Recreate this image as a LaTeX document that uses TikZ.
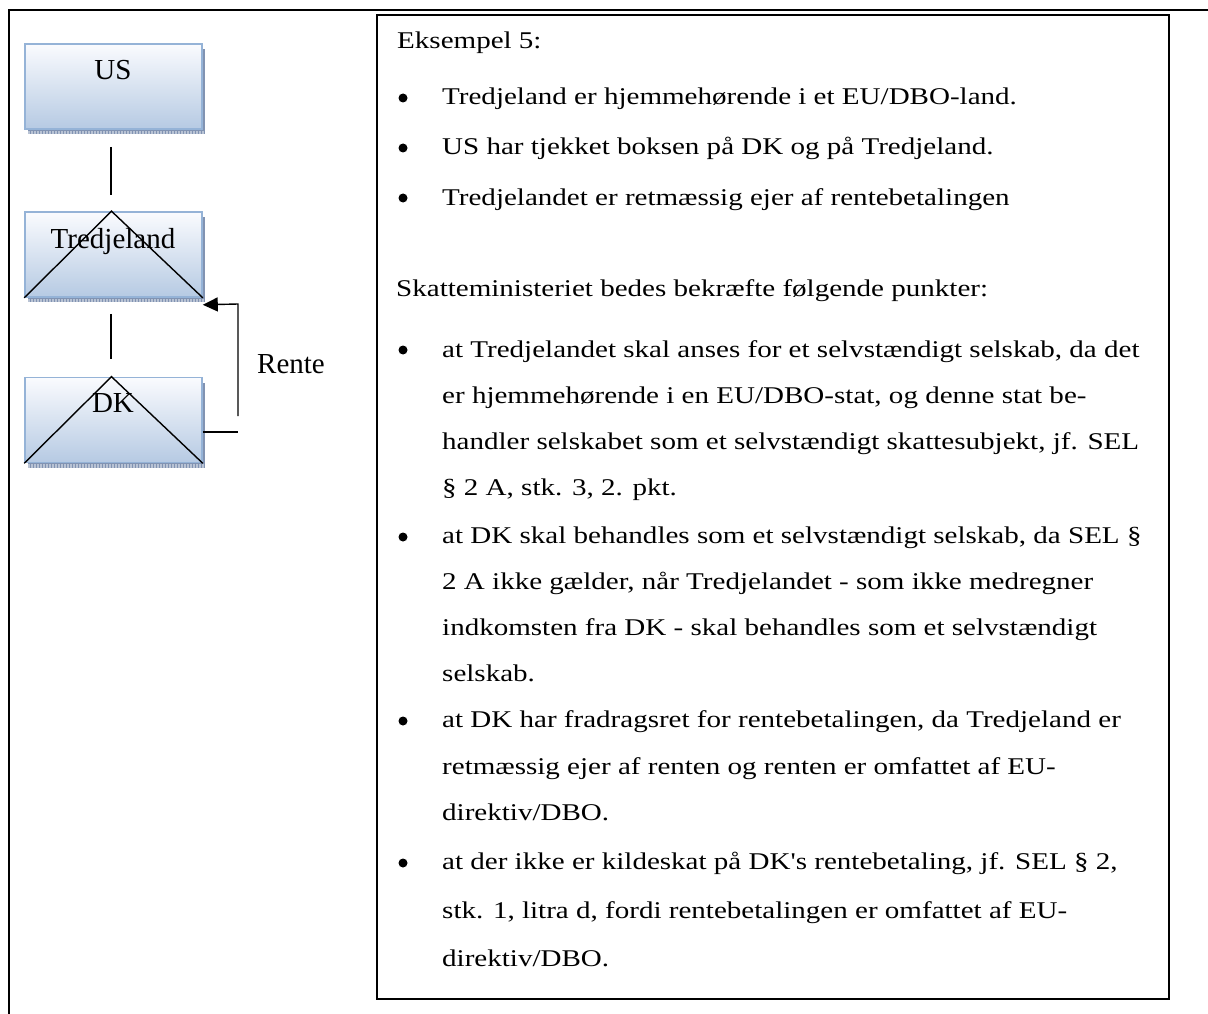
\documentclass[tikz,border=0pt]{standalone}
\usepackage{fontspec}
\setmainfont{Liberation Serif}
\newfontfamily\boxfont{Liberation Serif}[FakeStretch=1.21, Ligatures=TeXOff]
\usetikzlibrary{arrows.meta,shadows}

\definecolor{boxedge}{HTML}{95B3D7}
\definecolor{boxtop}{HTML}{FAFBFE}
\definecolor{boxbot}{HTML}{B6CAE3}
\definecolor{boxshadow}{HTML}{8193B2}

\tikzset{
  entity/.style={draw=boxedge, line width=1.6pt, top color=boxtop, bottom color=boxbot,
    minimum width=177pt, minimum height=85pt, inner sep=0pt,
    general shadow={fill=boxshadow, shadow xshift=3pt, shadow yshift=-5pt}},
  hatch/.style={draw=white, opacity=0.45, line width=4pt, dash pattern=on 1.5pt off 1.5pt},
  tag/.style={anchor=base, inner sep=0pt, font=\fontsize{29}{32}\selectfont},
  link/.style={line width=1.4pt, line cap=butt},
  txt/.style={anchor=base west, inner sep=0pt, font=\boxfont\fontsize{24}{28}\selectfont},
  dot/.style={circle, fill=black, inner sep=0pt, minimum size=9pt},
  frame/.style={line width=2pt},
}

\begin{document}
\begin{tikzpicture}[x=1pt, y=-1pt]
\useasboundingbox (0,0) rectangle (1208,1014);

% outer page frame (top and left edges)
\draw[frame, line join=miter] (1208,10) -- (9,10) -- (9,1014);

% ownership chain
\node[entity] (us) at (113.5,86.5) {};
\node[entity] (tr) at (113.5,254.5) {};
\node[entity] (dk) at (113.5,420) {};

% striped look of the box shadows
\foreach \b in {us,tr,dk}
  \draw[hatch] ([xshift=4pt,yshift=-3pt]\b.south west) -- ([xshift=3pt,yshift=-3pt]\b.south east);

\node[tag] (usT) at (113,80) {US};
\node[tag] (trT) at (113,248) {Tredjeland};
\node[tag] (dkT) at (113,412) {DK};

% transparent-entity markers
\draw[link, line join=miter] (tr.south west) -- ([xshift=-2pt]tr.north) -- (tr.south east);
\draw[link, line join=miter] (dk.south west) -- ([xshift=-2pt]dk.north) -- (dk.south east);

% ownership links
\draw[link, shorten <=17pt, shorten >=16pt] ([xshift=-2.5pt]us.south) -- ([xshift=-2.5pt]tr.north);
\draw[link, shorten <=16pt, shorten >=18pt] ([xshift=-2.5pt]tr.south) -- ([xshift=-2.5pt]dk.north);

% interest payment
\coordinate (rfoot) at (238,432);
\coordinate (rlow) at (238,416);
\coordinate (rtop) at (238,304);
\draw[link] ([yshift=-12pt]dk.east) -- (rfoot);
\draw[link, -{Triangle[length=15pt, width=14pt]}] (rlow) -- (rtop) -- ([yshift=-7pt]tr.south east);
\node[tag, anchor=base west] (rente) at (257,373) {Rente};

% text panel
\node[draw, frame, anchor=north west, minimum width=792pt, minimum height=984pt, inner sep=0pt] (panel) at (376,14) {};

\node[txt] (h0) at (397,49) {Eksempel 5:};
\node[dot] (d1) at (403,98) {};
\node[txt] (a1) at (442,105) {Tredjeland er hjemmehørende i et EU/DBO-land.};
\node[dot] (d2) at (403,148) {};
\node[txt] (a2) at (442,155) {US har tjekket boksen på DK og på Tredjeland.};
\node[dot] (d3) at (403,198) {};
\node[txt] (a3) at (442,205) {Tredjelandet er retmæssig ejer af rentebetalingen};

\node[txt] (s0) at (396,296) {Skatteministeriet bedes bekræfte følgende punkter:};

\node[dot] (d4) at (403,350) {};
\node[txt] (p1a) at (442,357) {at Tredjelandet skal anses for et selvstændigt selskab, da det};
\node[txt] (p1b) at (442,403) {er hjemmehørende i en EU/DBO-stat, og denne stat be-};
\node[txt] (p1c) at (442,449) {handler selskabet som et selvstændigt skattesubjekt, jf. SEL};
\node[txt] (p1d) at (442,495) {§ 2 A, stk. 3, 2. pkt.};

\node[dot] (d5) at (403,537) {};
\node[txt] (p2a) at (442,543) {at DK skal behandles som et selvstændigt selskab, da SEL §};
\node[txt] (p2b) at (442,589) {2 A ikke gælder, når Tredjelandet - som ikke medregner};
\node[txt] (p2c) at (442,635) {indkomsten fra DK - skal behandles som et selvstændigt};
\node[txt] (p2d) at (442,681) {selskab.};

\node[dot] (d6) at (403,721) {};
\node[txt] (p3a) at (442,727) {at DK har fradragsret for rentebetalingen, da Tredjeland er};
\node[txt] (p3b) at (442,774) {retmæssig ejer af renten og renten er omfattet af EU-};
\node[txt] (p3c) at (442,820) {direktiv/DBO.};

\node[dot] (d7) at (403,863) {};
\node[txt] (p4a) at (442,869) {at der ikke er kildeskat på DK's rentebetaling, jf. SEL § 2,};
\node[txt] (p4b) at (442,918) {stk. 1, litra d, fordi rentebetalingen er omfattet af EU-};
\node[txt] (p4c) at (442,966) {direktiv/DBO.};
\end{tikzpicture}
\end{document}
